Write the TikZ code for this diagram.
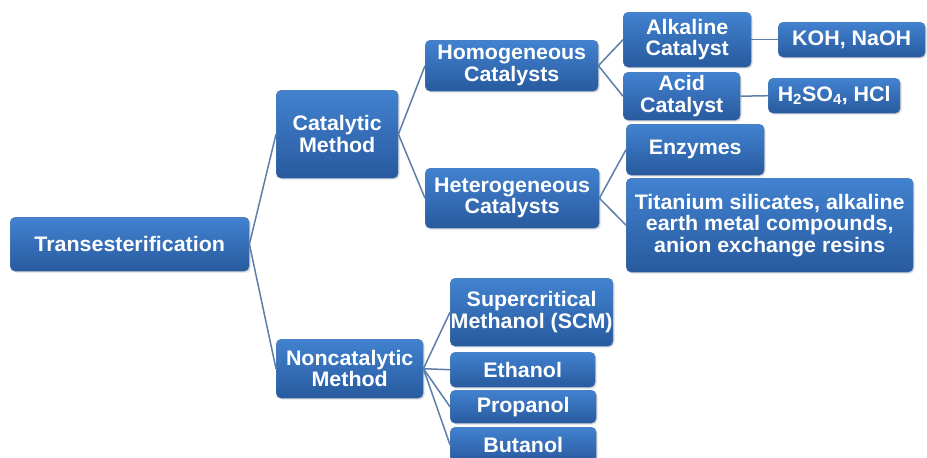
\documentclass[tikz,border=0pt]{standalone}
\usepackage{xcolor}
\usepackage{fontspec}
\setmainfont{Liberation Sans}[FakeStretch=1.02]
\usepackage{tikz}
\usetikzlibrary{shadows}

\definecolor{boxtop}{RGB}{66,130,208}
\definecolor{boxbot}{RGB}{40,90,158}
\definecolor{linkcol}{RGB}{92,126,168}

\begin{document}
\begin{tikzpicture}[x=1pt,y=-1pt,
every node/.style={anchor=north west},
box/.style={anchor=north west,rounded corners=5pt,inner sep=0.5pt,
  top color=boxtop,bottom color=boxbot,draw=boxbot!80!white,
  drop shadow={opacity=0.25,shadow xshift=1.5pt,shadow yshift=-1.5pt},
  text=white,align=center,font=\bfseries\fontsize{21}{21.5}\selectfont},
link/.style={draw=linkcol,line width=1.5pt}
]
\useasboundingbox (0,0) rectangle (927,458);

\path (10,217) node[box,minimum width=239pt,minimum height=54pt] (trans) {Transesterification}
     (276,90)  node[box,minimum width=122pt,minimum height=88pt] (cat) {Catalytic\\Method}
     (276,339) node[box,minimum width=147pt,minimum height=59pt] (noncat) {Noncatalytic\\Method};

\path (425,40)  node[box,minimum width=173pt,minimum height=51pt] (homo) {Homogeneous\\Catalysts}
     (425,168) node[box,minimum width=174pt,minimum height=60pt] (hetero) {Heterogeneous\\Catalysts};

\path (623,12)  node[box,minimum width=128pt,minimum height=55pt] (alk) {Alkaline\\Catalyst}
     (623,72)  node[box,minimum width=117pt,minimum height=48pt] (acid) {Acid\\Catalyst}
     (778,22)  node[box,minimum width=147pt,minimum height=35pt] (koh) {KOH, NaOH}
     (768,78)  node[box,minimum width=132pt,minimum height=35pt] (hso) {H\textsubscript{2}SO\textsubscript{4}, HCl}
     (626,124) node[box,minimum width=138pt,minimum height=51pt] (enz) {Enzymes}
     (626,178) node[box,minimum width=287pt,minimum height=94pt] (tit) {Titanium silicates, alkaline\\earth metal compounds,\\anion exchange resins};

\path (450,278) node[box,minimum width=161pt,minimum height=68pt] (scm) {Supercritical\\Methanol (SCM)}
     (450,352) node[box,minimum width=145pt,minimum height=35pt] (eth) {Ethanol}
     (450,390) node[box,minimum width=146pt,minimum height=33pt] (prop) {Propanol}
     (450,427) node[box,minimum width=146pt,minimum height=35pt] (but) {Butanol};

\begin{scope}[on background layer/.try]
\foreach \a/\b in {trans/cat,trans/noncat,cat/homo,cat/hetero,homo/alk,homo/acid,
  alk/koh,acid/hso,hetero/enz,hetero/tit,noncat/scm,noncat/eth,noncat/prop,noncat/but}
  \draw[link] (\a.east) -- (\b.west);
\end{scope}
\end{tikzpicture}
\end{document}
